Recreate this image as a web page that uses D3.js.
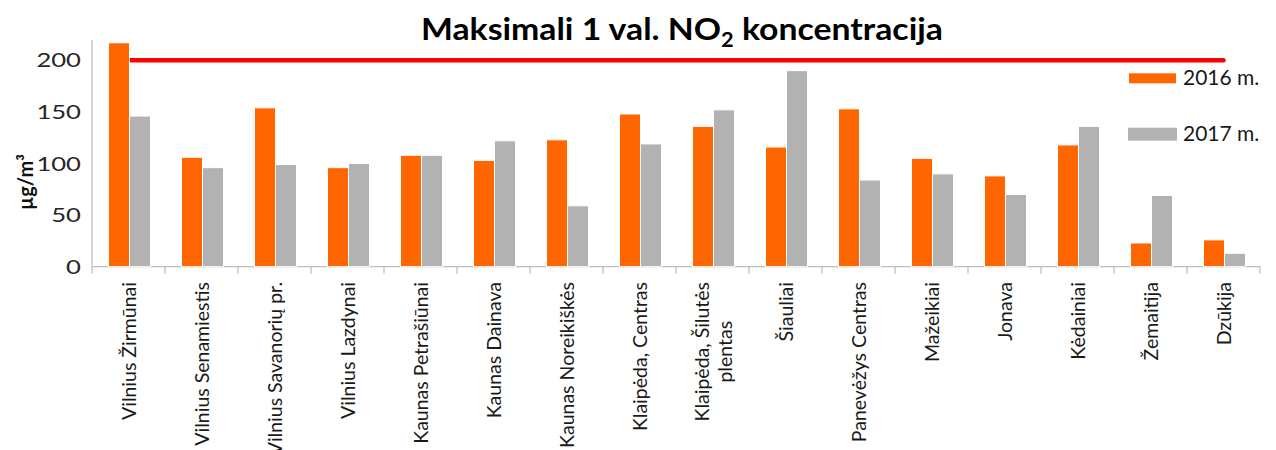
<!DOCTYPE html>
<html><head><meta charset="utf-8">
<script src="https://cdn.jsdelivr.net/npm/d3@7"></script>
<style>html,body{margin:0;padding:0;background:#fff;overflow:hidden}</style>
</head><body>
<svg id="chart" width="1276" height="450"></svg>
<script>
const categories = ["Vilnius Žirmūnai","Vilnius Senamiestis","Vilnius Savanorių pr.","Vilnius Lazdynai","Kaunas Petrašiūnai","Kaunas Dainava","Kaunas Noreikiškės","Klaipėda, Centras","Klaipėda, Šilutės\nplentas","Šiauliai","Panevėžys Centras","Mažeikiai","Jonava","Kėdainiai","Žemaitija","Dzūkija"];
const seriesNames = ["2016 m.","2017 m."];
const values2016 = [217,106,154,96,108,103,123,148,136,116,153,105,88,118,23,26];
const values2017 = [146,96,99,100,108,122,59,119,152,190,84,90,70,136,69,13];
const limitValue = 200;
const yTicks = [0,50,100,150,200];
const titleMain = "Maksimali 1 val. NO";
const titleSub = "2";
const titleEnd = " koncentracija";
const yTitle = "µg/m³";

(function(){
const colors = ["#FF6600","#B2B2B2"];
const svg = d3.select("#chart");
const pLeft = 92, pRight = 1260, pTop = 39.7, pBottom = 266.7;

const x0 = d3.scaleBand().domain(categories).range([pLeft,pRight]).padding(0);
const x1 = d3.scaleBand().domain(seriesNames).range([0,42]).padding(0);
const y = d3.scaleLinear().domain([0,220]).range([pBottom,pTop]);
const groupOffset = 16.5;

const axisColor = "#BFBFBF";
svg.append("line").attr("x1",pLeft).attr("x2",pLeft).attr("y1",pTop).attr("y2",pBottom)
  .attr("stroke",axisColor).attr("stroke-width",1.3);
svg.append("line").attr("x1",pLeft).attr("x2",pRight).attr("y1",pBottom).attr("y2",pBottom)
  .attr("stroke",axisColor).attr("stroke-width",1.3);
const bounds = categories.map(c=>x0(c)).concat([pRight]);
svg.selectAll(".xtick").data(bounds).enter().append("line")
  .attr("x1",d=>d).attr("x2",d=>d).attr("y1",pBottom).attr("y2",pBottom+7)
  .attr("stroke",axisColor).attr("stroke-width",1.3);

svg.selectAll(".ytl").data(yTicks).enter().append("text")
  .attr("transform",d=>`translate(81,${y(d)}) scale(1.35,1)`)
  .attr("text-anchor","end").attr("dominant-baseline","central")
  .attr("font-family","Lato").attr("font-size",19).attr("fill","#262626")
  .text(d=>d);

svg.append("text").attr("transform","translate(25,182) rotate(-90)")
  .attr("text-anchor","middle").attr("dominant-baseline","central")
  .attr("font-family","Lato").attr("font-weight","bold").attr("font-size",20).attr("fill","#111")
  .text(yTitle);

svg.append("line")
  .attr("x1",x0(categories[0])+x0.bandwidth()/2).attr("x2",x0(categories[categories.length-1])+x0.bandwidth()/2)
  .attr("y1",y(limitValue)).attr("y2",y(limitValue))
  .attr("stroke","#FF0000").attr("stroke-width",4.5).attr("stroke-linecap","round");

const data = categories.map((c,i)=>({c, vals:[values2016[i],values2017[i]]}));
const g = svg.selectAll(".grp").data(data).enter().append("g")
  .attr("transform",d=>`translate(${x0(d.c)+groupOffset},0)`);
g.selectAll("rect").data(d=>d.vals.map((v,j)=>({v,s:seriesNames[j],j}))).enter().append("rect")
  .attr("x",d=>x1(d.s)).attr("width",x1.bandwidth())
  .attr("y",d=>y(d.v)).attr("height",d=>y(0)-y(d.v))
  .attr("fill",d=>colors[d.j]).attr("stroke","#fff").attr("stroke-width",1);

const labTop = 282, fs = 19.5, lineGap = 23;
categories.forEach(c=>{
  const cx = x0(c)+x0.bandwidth()/2;
  const lines = c.split("\n");
  const lg = svg.append("g").attr("transform",`translate(${cx},${labTop}) rotate(-90)`);
  const texts = lines.map((ln,i)=>lg.append("text")
    .attr("font-family","Lato").attr("font-size",fs).attr("fill","#1a1a1a")
    .attr("dominant-baseline","central")
    .attr("y",(i-(lines.length-1)/2)*lineGap).text(ln));
  if(lines.length===1){
    texts[0].attr("text-anchor","end").attr("x",0);
  } else {
    const maxW = d3.max(texts,t=>t.node().getComputedTextLength());
    texts.forEach(t=>t.attr("text-anchor","middle").attr("x",-maxW/2));
  }
});

const title = svg.append("text").attr("font-family","Lato").attr("font-weight","bold")
  .attr("font-size",31).attr("fill","#000").attr("x",0).attr("y",0);
title.append("tspan").text(titleMain);
title.append("tspan").attr("font-size",20).attr("dy",7).text(titleSub);
title.append("tspan").attr("dy",-7).text(titleEnd);
const tw = title.node().getBBox().width;
const targetW = 522;
title.attr("transform",`translate(421,40) scale(${targetW/tw},1)`);

const legY = [{sy:73.3,sh:10,ty:85},{sy:127.7,sh:13,ty:141}];
seriesNames.forEach((s,j)=>{
  svg.append("rect").attr("x",1129-(j?1:0)).attr("y",legY[j].sy)
    .attr("width",47+(j?2:0)).attr("height",legY[j].sh).attr("fill",colors[j]);
  svg.append("text").attr("x",1183).attr("y",legY[j].ty)
    .attr("font-family","Lato").attr("font-size",21).attr("fill","#1a1a1a").text(s);
});
})();
</script>
</body></html>
